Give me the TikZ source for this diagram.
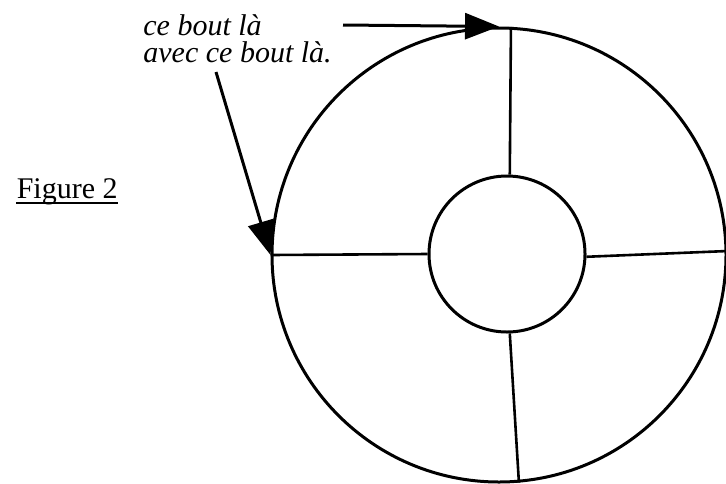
\documentclass[tikz,border=0pt]{standalone}
\usepackage{fontspec}
\setmainfont{Liberation Serif}
\usepackage{tikz}
\usetikzlibrary{arrows.meta,positioning,calc}
\tikzset{
  ringline/.style={draw,circle,line width=1.5pt,inner sep=0pt},
  spoke/.style={line width=1.3pt},
  bigtip/.style={line width=1.5pt,-{Triangle[length=17pt,width=13pt]}},
  notetext/.style={font=\fontsize{15}{13.5}\selectfont\itshape,anchor=base west,inner sep=0pt},
  figtext/.style={font=\fontsize{15}{16}\selectfont,anchor=base east,inner sep=0pt}
}

\begin{document}
\begin{tikzpicture}[x=0.5pt,y=-0.5pt]
\useasboundingbox (0,0) rectangle (726,483);
% the ring
\node[ringline,minimum size=227pt] (outer) at (499,255) {};
\node[ringline,minimum size=78pt] (inner) at (507,254) {};
\draw[spoke] (inner.88) -- (outer.87.7);
\draw[spoke] (inner.180) -- (outer.180);
\draw[spoke] (inner.358) -- (outer.1);
\draw[spoke] (inner.272) -- (outer.275);
% labels
\node[notetext] (noteA) at (143,35) {ce bout là};
\node[notetext] (noteB) at (143,62) {avec ce bout là.};
\node[figtext] (fig) at (118,198) {Figure 2};
\draw[line width=0.8pt] ([yshift=-2.6pt]fig.base west) -- ([yshift=-2.6pt]fig.base east);
% arrows
\coordinate (tailA) at (343,25);
\coordinate (tailB) at (216,72);
\draw[bigtip] (tailA) -- (outer.90.3);
\draw[bigtip] (tailB) -- (outer.180.8);
\end{tikzpicture}
\end{document}
